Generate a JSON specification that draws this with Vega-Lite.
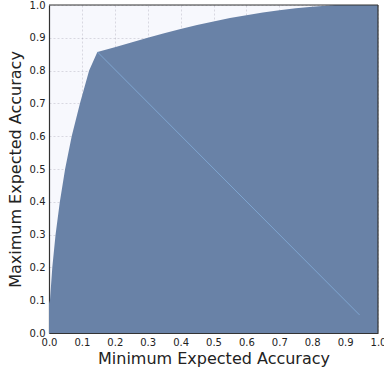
{
  "$schema": "https://vega.github.io/schema/vega-lite/v6.json",
  "autosize": "none",
  "width": 329,
  "height": 328,
  "padding": {"left": 49, "top": 5, "right": 6, "bottom": 40},
  "background": "white",
  "config": {
    "view": {"fill": "#f7f8fd", "stroke": null},
    "axis": {
      "labelFont": "DejaVu Sans",
      "titleFont": "DejaVu Sans",
      "labelFontSize": 10,
      "titleFontSize": 16,
      "titleFontWeight": "normal",
      "labelColor": "#222222",
      "titleColor": "#222222",
      "tickSize": 0,
      "labelPadding": 4,
      "labelFlush": false,
      "labelOverlap": false,
      "domain": true,
      "domainColor": "#333333",
      "domainWidth": 1.2,
      "gridColor": "#777788",
      "gridOpacity": 0.3,
      "gridDash": [2, 2],
      "gridWidth": 0.8,
      "zindex": 1
    }
  },
  "layer": [
    {
      "data": {"values": [
        {"x": 0, "y": 0.09},
        {"x": 0.003, "y": 0.1},
        {"x": 0.01, "y": 0.2},
        {"x": 0.02, "y": 0.3},
        {"x": 0.033, "y": 0.4},
        {"x": 0.049, "y": 0.5},
        {"x": 0.069, "y": 0.6},
        {"x": 0.094, "y": 0.7},
        {"x": 0.122, "y": 0.8},
        {"x": 0.147, "y": 0.857},
        {"x": 0.2, "y": 0.871},
        {"x": 0.25, "y": 0.886},
        {"x": 0.3, "y": 0.9},
        {"x": 0.35, "y": 0.914},
        {"x": 0.4, "y": 0.927},
        {"x": 0.45, "y": 0.939},
        {"x": 0.5, "y": 0.95},
        {"x": 0.55, "y": 0.96},
        {"x": 0.6, "y": 0.969},
        {"x": 0.65, "y": 0.977},
        {"x": 0.7, "y": 0.984},
        {"x": 0.75, "y": 0.99},
        {"x": 0.8, "y": 0.995},
        {"x": 0.87, "y": 1.0},
        {"x": 1.0, "y": 1.0}
      ]},
      "mark": {"type": "area", "color": "#6982a7", "opacity": 1},
      "encoding": {
        "x": {"field": "x", "type": "quantitative", "scale": {"domain": [0, 1], "nice": false},
              "axis": {"title": "Minimum Expected Accuracy", "tickCount": 10, "format": ".1f", "titlePadding": 3}},
        "y": {"field": "y", "type": "quantitative", "scale": {"domain": [0, 1], "nice": false},
              "axis": {"title": "Maximum Expected Accuracy", "tickCount": 10, "format": ".1f", "titlePadding": 6}}
      }
    },
    {
      "data": {"values": [
        {"x": 0.147, "y": 0.857},
        {"x": 0.944, "y": 0.055}
      ]},
      "mark": {"type": "line", "color": "#80a8d4", "strokeWidth": 0.9},
      "encoding": {
        "x": {"field": "x", "type": "quantitative"},
        "y": {"field": "y", "type": "quantitative"}
      }
    },
    {
      "data": {"values": [{"edge": 1}]},
      "mark": {"type": "rule", "color": "#333333", "strokeWidth": 1.2},
      "encoding": {
        "x": {"field": "edge", "type": "quantitative"}
      }
    },
    {
      "data": {"values": [{"edge": 1}]},
      "mark": {"type": "rule", "color": "#333333", "strokeWidth": 1.2},
      "encoding": {
        "y": {"field": "edge", "type": "quantitative"}
      }
    }
  ]
}
